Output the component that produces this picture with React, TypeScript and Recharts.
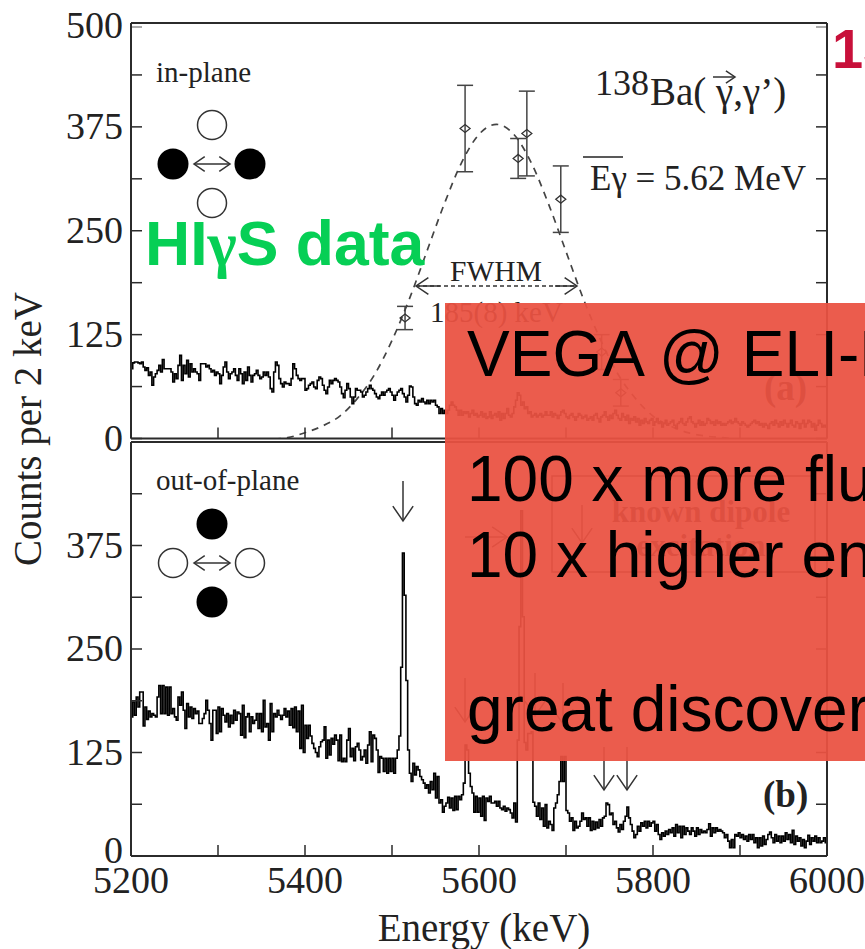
import React from "react";
import {
  ComposedChart,
  Line,
  Scatter,
  ErrorBar,
  XAxis,
  YAxis,
} from "recharts";

const W = 865;
const H = 949;
const SERIF = "'Liberation Serif', serif";
const SANS = "'Liberation Sans', sans-serif";
const INK = "#2b2b2b";

const xTicks = [5200, 5300, 5400, 5500, 5600, 5700, 5800, 5900, 6000];
const yTicks = [0, 62.5, 125, 187.5, 250, 312.5, 375, 437.5, 500];

// counts per 2 keV bin, in-plane (20 bins per row)
const inPlaneCounts = [
  84, 91, 92, 92, 91, 90, 92, 86, 82, 85, 76, 80, 64, 74, 78, 82, 88, 80, 95, 84,
  84, 84, 84, 80, 68, 78, 72, 88, 100, 70, 88, 78, 94, 74, 90, 80, 84, 80, 78, 70,
  90, 90, 90, 86, 88, 84, 80, 82, 76, 80, 78, 66, 76, 86, 92, 80, 72, 78, 80, 84,
  76, 70, 84, 78, 66, 80, 70, 86, 76, 68, 76, 78, 82, 76, 72, 74, 80, 76, 80, 74,
  60, 56, 80, 92, 88, 72, 66, 62, 68, 66, 66, 64, 72, 90, 84, 76, 72, 70, 72, 72,
  58, 60, 64, 66, 68, 62, 60, 70, 74, 72, 64, 58, 54, 62, 70, 66, 70, 72, 70, 68,
  62, 54, 49, 58, 66, 60, 50, 42, 50, 60, 58, 58, 56, 50, 52, 56, 60, 64, 60, 58,
  54, 50, 48, 52, 56, 52, 56, 58, 60, 56, 52, 46, 52, 56, 58, 60, 54, 50, 44, 52,
  63, 62, 50, 42, 40, 46, 44, 48, 44, 42, 46, 42, 46, 44, 46, 40, 38, 30, 36, 30,
  34, 30, 34, 40, 44, 40, 38, 34, 28, 34, 28, 32, 30, 32, 26, 30, 34, 28, 30, 26,
  28, 32, 26, 30, 24, 26, 32, 24, 28, 30, 26, 32, 22, 30, 24, 30, 36, 28, 26, 30,
  38, 46, 55, 52, 40, 44, 36, 38, 30, 32, 26, 28, 30, 26, 28, 30, 26, 28, 32, 28,
  28, 32, 26, 30, 28, 24, 28, 32, 34, 30, 26, 24, 28, 30, 26, 22, 26, 30, 28, 24,
  26, 28, 22, 24, 26, 22, 28, 30, 24, 20, 26, 28, 32, 26, 22, 28, 24, 30, 34, 28,
  24, 22, 30, 26, 22, 28, 18, 24, 22, 26, 20, 24, 16, 22, 18, 24, 20, 18, 22, 24,
  16, 20, 24, 18, 20, 14, 18, 22, 16, 18, 20, 22, 16, 12, 18, 20, 24, 18, 16, 20,
  24, 26, 20, 18, 14, 18, 22, 16, 20, 16, 18, 24, 22, 18, 20, 16, 22, 18, 20, 16,
  18, 16, 18, 20, 22, 18, 20, 24, 20, 18, 16, 20, 18, 16, 14, 16, 18, 20, 22, 18,
  20, 16, 18, 14, 18, 16, 12, 18, 20, 16, 22, 18, 14, 20, 16, 22, 18, 14, 18, 22,
  16, 14, 20, 18, 12, 18, 22, 14, 18, 22, 20, 14, 18, 10, 16, 22, 18, 14, 16, 14, 14,
];

// counts per 2 keV bin, out-of-plane
const outPlaneCounts = [
  168, 186, 170, 192, 180, 198, 198, 157, 180, 165, 175, 168, 172, 170, 168, 192, 206, 172, 206, 172,
  204, 170, 204, 172, 178, 168, 164, 192, 182, 198, 176, 154, 184, 168, 180, 166, 178, 172, 175, 160,
  160, 166, 172, 188, 176, 160, 140, 176, 176, 148, 180, 150, 178, 170, 162, 172, 156, 170, 160, 176,
  164, 174, 172, 146, 182, 143, 168, 172, 150, 168, 160, 164, 172, 154, 172, 150, 188, 156, 160, 140,
  184, 150, 172, 168, 176, 170, 165, 170, 178, 168, 175, 158, 178, 155, 180, 150, 175, 130, 182, 125,
  158, 142, 158, 145, 136, 130, 125, 120, 132, 138, 140, 156, 118, 140, 122, 142, 135, 146, 140, 115,
  146, 114, 118, 114, 140, 154, 120, 130, 115, 132, 136, 128, 116, 120, 128, 112, 134, 150, 114, 146,
  142, 128, 101, 120, 118, 102, 118, 100, 118, 102, 118, 100, 118, 128, 145, 228, 366, 315, 212, 128,
  100, 90, 112, 98, 108, 104, 96, 92, 88, 82, 86, 76, 90, 80, 100, 70, 96, 64, 68, 53,
  60, 64, 71, 58, 70, 55, 72, 56, 72, 68, 74, 88, 134, 128, 100, 84, 76, 53, 72, 53,
  70, 48, 72, 43, 70, 66, 72, 64, 64, 66, 60, 66, 58, 56, 60, 54, 58, 56, 52, 46,
  64, 41, 140, 277, 417, 289, 137, 128, 148, 148, 150, 65, 60, 48, 64, 44, 58, 36, 62, 34,
  42, 38, 31, 58, 64, 74, 90, 120, 90, 120, 55, 52, 42, 46, 31, 42, 34, 36, 42, 52,
  44, 46, 36, 46, 31, 42, 32, 41, 34, 44, 36, 46, 48, 64, 62, 50, 52, 38, 42, 34,
  29, 38, 32, 42, 48, 59, 46, 38, 30, 22, 26, 36, 30, 40, 36, 42, 34, 42, 36, 40,
  42, 30, 38, 26, 20, 28, 24, 30, 26, 32, 28, 34, 24, 38, 28, 36, 22, 36, 26, 34,
  30, 26, 34, 30, 24, 34, 26, 32, 28, 30, 28, 32, 39, 24, 34, 28, 34, 30, 32, 30,
  28, 22, 26, 18, 10, 20, 10, 26, 24, 28, 22, 26, 20, 24, 18, 26, 20, 26, 16, 22,
  10, 22, 12, 24, 14, 20, 26, 29, 22, 16, 26, 18, 24, 16, 24, 18, 28, 20, 26, 16,
  31, 14, 24, 18, 22, 12, 20, 10, 18, 25, 14, 22, 18, 24, 16, 22, 16, 18, 22, 16, 16,
];

// dashed fit curve, read every 20 keV
const fitEnergy = [
  5200, 5240, 5280, 5320, 5360, 5380, 5400, 5420, 5440, 5460, 5480, 5500, 5520, 5540, 5560, 5580,
  5600, 5620, 5640, 5660, 5680, 5700, 5720, 5740, 5760, 5780, 5800, 5820, 5840, 5860, 5880, 5900, 6000,
];
const fitCounts = [
  -2, -2, -2, -2, -1, 1, 7, 15, 27, 48, 77, 118, 168, 225, 282, 332,
  366, 378, 366, 332, 282, 225, 168, 118, 77, 48, 27, 15, 7, 3, 1, -1, -2,
];

// measured points with error bars (top panel)
const pointEnergy = [5515, 5584, 5645, 5655, 5694, 5741, 5763];
const pointCounts = [145, 373, 337, 367, 288, 104, 55];
const pointErr = [14, 52, 24, 51, 40, 21, 16];

const inPlaneRows = inPlaneCounts.map((y, i) => ({ x: 5200 + i * 2, y }));
const outPlaneRows = outPlaneCounts.map((y, i) => ({ x: 5200 + i * 2, y }));
const fitRows = fitEnergy.map((x, i) => ({ x, y: fitCounts[i] }));
const pointRows = pointEnergy.map((x, i) => ({ x, y: pointCounts[i], err: pointErr[i] }));

const tickText = { fontFamily: SERIF, fontSize: 38, fill: "#222" };

// y axis tick on the left side, drawn inward, with a label on the multiples of 125
const leftTick = (zeroShift: number, showTop: boolean) => (p: any) => {
  const v = p.payload.value;
  const shift = v === 0 ? zeroShift : v === 500 ? 3 : 0;
  return (
    <g>
      <line x1={p.x} x2={p.x + 11} y1={p.y} y2={p.y} stroke={INK} strokeWidth={1.5} />
      {v % 125 === 0 && (v !== 500 || showTop) && (
        <text x={p.x - 8} y={p.y + 12 + shift} textAnchor="end" {...tickText}>
          {v}
        </text>
      )}
    </g>
  );
};

const rightTick = (p: any) => (
  <line x1={p.x} x2={p.x - 11} y1={p.y} y2={p.y} stroke={INK} strokeWidth={1.5} />
);

const upTick = (p: any) => (
  <line x1={p.x} x2={p.x} y1={p.y} y2={p.y - 11} stroke={INK} strokeWidth={1.5} />
);

const downTick = (p: any) => (
  <line x1={p.x} x2={p.x} y1={p.y} y2={p.y + 11} stroke={INK} strokeWidth={1.5} />
);

const bottomLabelTick = (p: any) => (
  <g>
    <line x1={p.x} x2={p.x} y1={p.y} y2={p.y - 11} stroke={INK} strokeWidth={1.5} />
    {p.payload.value % 200 === 0 && (
      <text x={p.x} y={p.y + 37} textAnchor="middle" {...tickText}>
        {p.payload.value}
      </text>
    )}
  </g>
);

const Diamond = (p: any) => (
  <path
    d={`M${p.cx - 5} ${p.cy}L${p.cx} ${p.cy - 4}L${p.cx + 5} ${p.cy}L${p.cx} ${p.cy + 4}Z`}
    fill="none"
    stroke="#333"
    strokeWidth={1.3}
  />
);

const frameAxes = (zeroShift: number, showTop: boolean) => [
  <YAxis
    key="l"
    type="number"
    domain={[0, 500]}
    ticks={yTicks}
    interval={0}
    width={131}
    allowDataOverflow
    axisLine={{ stroke: INK, strokeWidth: 2 }}
    tickLine={false}
    tickSize={0}
    tickMargin={0}
    tick={leftTick(zeroShift, showTop)}
  />,
  <YAxis
    key="r"
    yAxisId="r"
    orientation="right"
    type="number"
    domain={[0, 500]}
    ticks={yTicks}
    interval={0}
    width={38}
    allowDataOverflow
    axisLine={{ stroke: INK, strokeWidth: 2 }}
    tickLine={false}
    tickSize={0}
    tickMargin={0}
    tick={rightTick}
  />,
];

function TopPanel() {
  return (
    <ComposedChart
      width={W}
      height={460}
      margin={{ top: 22, right: 0, bottom: 20.5, left: 0 }}
      style={{ position: "absolute", left: 0, top: 0 }}
    >
      <XAxis
        dataKey="x"
        type="number"
        domain={[5200, 6000]}
        ticks={xTicks}
        interval={0}
        height={1}
        allowDataOverflow
        axisLine={{ stroke: INK, strokeWidth: 2 }}
        tickLine={false}
        tickSize={0}
        tickMargin={0}
        tick={upTick}
      />
      <XAxis
        xAxisId="t"
        orientation="top"
        type="number"
        domain={[5200, 6000]}
        ticks={xTicks}
        interval={0}
        height={1}
        allowDataOverflow
        axisLine={{ stroke: INK, strokeWidth: 2 }}
        tickLine={false}
        tickSize={0}
        tickMargin={0}
        tick={downTick}
      />
      {frameAxes(0, true)}
      <Line
        data={fitRows}
        dataKey="y"
        type="monotone"
        stroke="#444"
        strokeWidth={1.7}
        strokeDasharray="7 6"
        dot={false}
        isAnimationActive={false}
      />
      <Line
        data={inPlaneRows}
        dataKey="y"
        type="stepAfter"
        stroke="#000"
        strokeWidth={1.6}
        dot={false}
        isAnimationActive={false}
      />
      <Scatter data={pointRows} dataKey="y" shape={<Diamond />} isAnimationActive={false}>
        <ErrorBar dataKey="err" direction="y" width={8} stroke="#444" strokeWidth={1.5} isAnimationActive={false} />
      </Scatter>
    </ComposedChart>
  );
}

function BottomPanel() {
  return (
    <ComposedChart
      width={W}
      height={H}
      margin={{ top: 441, right: 0, bottom: 0, left: 0 }}
      style={{ position: "absolute", left: 0, top: 0 }}
    >
      <XAxis
        dataKey="x"
        type="number"
        domain={[5200, 6000]}
        ticks={xTicks}
        interval={0}
        height={93}
        allowDataOverflow
        axisLine={{ stroke: INK, strokeWidth: 2 }}
        tickLine={false}
        tickSize={0}
        tickMargin={0}
        tick={bottomLabelTick}
      />
      <XAxis
        xAxisId="t"
        orientation="top"
        type="number"
        domain={[5200, 6000]}
        ticks={xTicks}
        interval={0}
        height={1}
        allowDataOverflow
        axisLine={{ stroke: INK, strokeWidth: 2 }}
        tickLine={false}
        tickSize={0}
        tickMargin={0}
        tick={downTick}
      />
      {frameAxes(-5, false)}
      <Line
        data={outPlaneRows}
        dataKey="y"
        type="stepAfter"
        stroke="#000"
        strokeWidth={1.6}
        dot={false}
        isAnimationActive={false}
      />
    </ComposedChart>
  );
}

// small open-headed arrow used for the peak markers and FWHM
function Arrow({ x1, y1, x2, y2, head = 15, w = 1.5, dash }: any) {
  const a = Math.atan2(y2 - y1, x2 - x1);
  const ax = x2 - head * Math.cos(a - 0.6);
  const ay = y2 - head * Math.sin(a - 0.6);
  const bx = x2 - head * Math.cos(a + 0.6);
  const by = y2 - head * Math.sin(a + 0.6);
  return (
    <g fill="none" stroke="#333" strokeWidth={w}>
      <line x1={x1} y1={y1} x2={x2} y2={y2} strokeDasharray={dash} />
      <polyline points={`${ax},${ay} ${x2},${y2} ${bx},${by}`} />
    </g>
  );
}

const serifText = { fontFamily: SERIF, fill: "#222" };

function Annotations() {
  return (
    <svg width={W} height={H} style={{ position: "absolute", left: 0, top: 0 }}>
      {/* grey 500 ticks just under the frame */}
      <line x1={132} x2={142} y1={27} y2={27} stroke="#aaa" strokeWidth={2} />
      <line x1={816} x2={826} y1={27} y2={27} stroke="#aaa" strokeWidth={2} />

      <text x={156} y={82} fontSize={29} {...serifText}>in-plane</text>
      <circle cx={212} cy={125} r={14.5} fill="#fff" stroke="#333" strokeWidth={1.5} />
      <circle cx={212} cy={203} r={14.5} fill="#fff" stroke="#333" strokeWidth={1.5} />
      <circle cx={173} cy={164} r={15.5} fill="#000" />
      <circle cx={250} cy={164} r={15.5} fill="#000" />
      <Arrow x1={212} y1={164} x2={194} y2={164} head={13} />
      <Arrow x1={212} y1={164} x2={230} y2={164} head={13} />

      <text x={156} y={490} fontSize={29} {...serifText}>out-of-plane</text>
      <circle cx={212} cy={524} r={15.5} fill="#000" />
      <circle cx={212} cy={602} r={15.5} fill="#000" />
      <circle cx={173} cy={563} r={14.5} fill="#fff" stroke="#333" strokeWidth={1.5} />
      <circle cx={250} cy={563} r={14.5} fill="#fff" stroke="#333" strokeWidth={1.5} />
      <Arrow x1={212} y1={563} x2={194} y2={563} head={13} />
      <Arrow x1={212} y1={563} x2={230} y2={563} head={13} />

      <text x={595} y={95} fontSize={36} {...serifText}>138</text>
      <text x={650} y={105} fontSize={39} {...serifText}>Ba( γ,γ’)</text>
      <Arrow x1={713} y1={77} x2={735} y2={77} head={11} />
      <line x1={583} x2={623} y1={157} y2={157} stroke="#222" strokeWidth={1.5} />
      <text x={590} y={190} fontSize={35} {...serifText}>Eγ = 5.62 MeV</text>

      <text x={496} y={281} fontSize={29.5} textAnchor="middle" {...serifText}>FWHM</text>
      <line x1={416} x2={577} y1={286} y2={286} stroke="#333" strokeWidth={1.5} strokeDasharray="4 3" />
      <Arrow x1={440} y1={286} x2={416} y2={286} head={15} />
      <Arrow x1={555} y1={286} x2={577} y2={286} head={15} />
      <text x={430} y={322} fontSize={29} {...serifText}>185(8) keV</text>

      <text x={764} y={400} fontSize={37} fontWeight="bold" {...serifText}>(a)</text>
      <text x={763} y={807} fontSize={37} fontWeight="bold" {...serifText}>(b)</text>

      <Arrow x1={403} y1={481} x2={403} y2={521} head={18} />
      <Arrow x1={604} y1={747} x2={604} y2={790} head={18} />
      <Arrow x1={627} y1={747} x2={627} y2={790} head={18} />
      <Arrow x1={465} y1={678} x2={465} y2={722} head={18} />
      <Arrow x1={535} y1={673} x2={535} y2={716} head={18} />
      <Arrow x1={563} y1={683} x2={563} y2={724} head={18} />
      <Arrow x1={465} y1={537} x2={507} y2={537} head={18} />

      <rect x={552} y={476} width={263} height={96} fill="none" stroke="#333" strokeWidth={1.5} />
      <Arrow x1={582} y1={505} x2={582} y2={543} head={18} />
      <text x={701} y={522} fontSize={31} fontWeight="bold" textAnchor="middle" {...serifText}>known dipole</text>
      <text x={701} y={556} fontSize={31} fontWeight="bold" textAnchor="middle" {...serifText}>excitation</text>

      <text
        transform="translate(41 429) rotate(-90)"
        fontSize={39}
        textAnchor="middle"
        {...serifText}
      >
        Counts per 2 keV
      </text>
      <text x={484} y={941} fontSize={39} textAnchor="middle" {...serifText}>Energy (keV)</text>
    </svg>
  );
}

const boxLine = { position: "absolute", left: 22, color: "#000", fontFamily: SANS, fontSize: 64, lineHeight: "64px", whiteSpace: "nowrap" } as const;

function RedBox() {
  return (
    <div
      style={{
        position: "absolute",
        left: 445,
        top: 303,
        width: 420,
        height: 458,
        background: "rgba(234,82,66,0.94)",
        overflow: "hidden",
      }}
    >
      <div style={{ ...boxLine, top: 19 }}>VEGA @ ELI-NP</div>
      <div style={{ ...boxLine, top: 144 }}>100 x more flux</div>
      <div style={{ ...boxLine, top: 220 }}>10 x higher energy</div>
      <div style={{ ...boxLine, top: 374 }}>great discoveries</div>
    </div>
  );
}

export default function App() {
  return (
    <div style={{ position: "absolute", left: 0, top: 0, width: W, height: H, overflow: "hidden", background: "#fff" }}>
      <TopPanel />
      <BottomPanel />
      <Annotations />
      <RedBox />
      <svg width={W} height={H} style={{ position: "absolute", left: 0, top: 0 }}>
        <text x={145} y={265} fontFamily={SANS} fontWeight="bold" fontSize={62.5} fill="#06cf55">
          HI<tspan fontFamily={SERIF}>γ</tspan>S data
        </text>
        <text x={832} y={68} fontFamily={SANS} fontWeight="bold" fontSize={56} fill="#c8103a">
          138Ba
        </text>
      </svg>
    </div>
  );
}
